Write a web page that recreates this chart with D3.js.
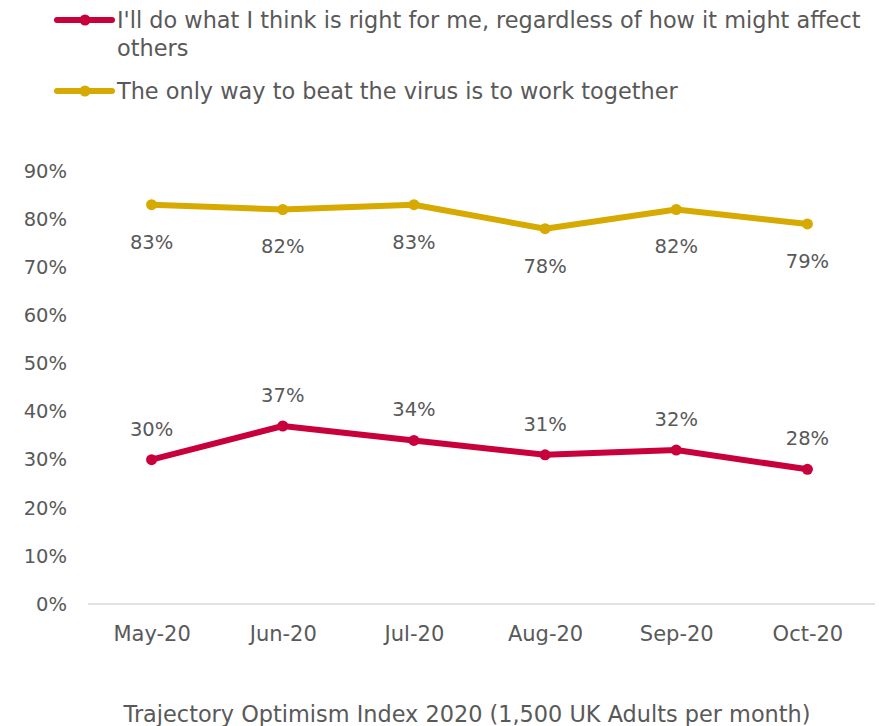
<!DOCTYPE html>
<html>
<head>
<meta charset="utf-8">
<script src="https://cdn.jsdelivr.net/npm/d3@7"></script>
<style>
  html, body { margin: 0; padding: 0; background: #fff; }
  svg text { font-family: "DejaVu Sans", sans-serif; fill: #595959; }
</style>
</head>
<body>
<svg id="chart" width="879" height="726"></svg>
<script>
// Survey months
const months = ["May-20", "Jun-20", "Jul-20", "Aug-20", "Sep-20", "Oct-20"];
// Share agreeing with each statement (%)
const selfFirst = [30, 37, 34, 31, 32, 28];
const together = [83, 82, 83, 78, 82, 79];
// Legend / series names
const seriesNames = [
  ["I'll do what I think is right for me, regardless of how it might affect", "others"],
  ["The only way to beat the virus is to work together"]
];
const yTicks = [0, 10, 20, 30, 40, 50, 60, 70, 80, 90];
const caption = "Trajectory Optimism Index 2020 (1,500 UK Adults per month)";

const colors = ["#C8003C", "#D6AA00"];
const series = [
  { name: seriesNames[0], values: selfFirst, color: colors[0], labelDy: -24 },
  { name: seriesNames[1], values: together, color: colors[1], labelDy: 44 }
];

const svg = d3.select("#chart");
const plot = { left: 86, right: 873, top: 171, bottom: 604 };

const x = d3.scalePoint().domain(months).range([plot.left, plot.right]).padding(0.5);
const y = d3.scaleLinear().domain([0, 90]).range([plot.bottom, plot.top]);

// Baseline
svg.append("line")
  .attr("x1", 88).attr("x2", 875)
  .attr("y1", y(0)).attr("y2", y(0))
  .attr("stroke", "#d9d9d9").attr("stroke-width", 1.5);

// Y axis labels
const yAxis = svg.append("g")
  .attr("transform", `translate(${plot.left},0)`)
  .call(d3.axisLeft(y).tickValues(yTicks).tickFormat(d => d + "%").tickSize(0).tickPadding(19));
yAxis.select(".domain").remove();
yAxis.selectAll("text").style("font-size", "19.5px").attr("fill", "#595959");

// X axis labels
const xAxis = svg.append("g")
  .attr("transform", `translate(0,${y(0)})`)
  .call(d3.axisBottom(x).tickSize(0).tickPadding(22));
xAxis.select(".domain").remove();
xAxis.selectAll("text").style("font-size", "21px").attr("fill", "#595959");

// Lines, markers and value labels
const line = d3.line().x((d, i) => x(months[i])).y(d => y(d));
series.forEach(s => {
  const g = svg.append("g");
  g.append("path")
    .datum(s.values)
    .attr("d", line)
    .attr("fill", "none")
    .attr("stroke", s.color)
    .attr("stroke-width", 6)
    .attr("stroke-linejoin", "round");
  g.selectAll("circle").data(s.values).join("circle")
    .attr("cx", (d, i) => x(months[i]))
    .attr("cy", d => y(d))
    .attr("r", 5.5)
    .attr("fill", s.color);
  g.selectAll("text").data(s.values).join("text")
    .attr("x", (d, i) => x(months[i]))
    .attr("y", d => y(d) + s.labelDy)
    .attr("text-anchor", "middle")
    .style("font-size", "19.5px")
    .text(d => d + "%");
});

// Legend
const legendRows = [20, 91];
series.forEach((s, k) => {
  const gy = legendRows[k];
  const g = svg.append("g");
  g.append("line")
    .attr("x1", 57).attr("x2", 112).attr("y1", gy).attr("y2", gy)
    .attr("stroke", s.color).attr("stroke-width", 6).attr("stroke-linecap", "round");
  g.append("circle").attr("cx", 85).attr("cy", gy).attr("r", 5.5).attr("fill", s.color);
  const t = g.append("text")
    .attr("x", 117).attr("y", gy + 8)
    .style("font-size", "22.4px");
  s.name.forEach((ln, j) => {
    t.append("tspan").attr("x", 117).attr("dy", j === 0 ? 0 : 28).text(ln);
  });
});

// Caption
svg.append("text")
  .attr("x", 467).attr("y", 722)
  .attr("text-anchor", "middle")
  .style("font-size", "22.4px")
  .text(caption);
</script>
</body>
</html>
